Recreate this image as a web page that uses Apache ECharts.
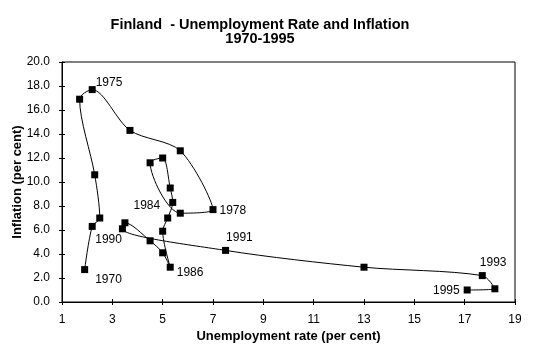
<!DOCTYPE html>
<html><head><meta charset="utf-8">
<script src="https://cdn.jsdelivr.net/npm/echarts@6/dist/echarts.min.js"></script>
<style>html,body{margin:0;padding:0;background:#fff}#c{width:535px;height:357px}</style>
</head><body><div id="c"></div>
<script>
var years = [1970,1971,1972,1973,1974,1975,1976,1977,1978,1979,1980,1981,1982,1983,1984,1985,1986,1987,1988,1989,1990,1991,1992,1993,1994,1995];
var unemployment = [1.9,2.2,2.5,2.3,1.7,2.2,3.7,5.7,7.0,5.7,4.5,5.0,5.3,5.4,5.2,5.0,5.3,5.0,4.5,3.5,3.4,7.5,13.0,17.7,18.2,17.1];
var inflation = [2.7,6.3,7.0,10.6,16.9,17.7,14.3,12.6,7.7,7.4,11.6,12.0,9.5,8.3,7.0,5.9,2.9,4.1,5.1,6.6,6.1,4.3,2.9,2.2,1.1,1.0];
var labelledYears = [1970,1975,1978,1984,1986,1990,1991,1993,1995];
var xTicks = [1,3,5,7,9,11,13,15,17,19];
var yTicks = [0,2,4,6,8,10,12,14,16,18,20];

var FONT = 'Arial, "Liberation Sans", sans-serif';
var labelStyle = {
  1970: {position: 'right', offset: [4, 10]},
  1975: {position: 'right', offset: [-3, -7]},
  1978: {position: 'right', offset: [0, 1]},
  1984: {position: 'left', offset: [-1, -12]},
  1986: {position: 'right', offset: [0, 5]},
  1990: {position: 'left', offset: [6, 11]},
  1991: {position: 'right', offset: [-6, -13]},
  1993: {position: 'right', offset: [-9, -13]},
  1995: {position: 'left', offset: [-1, 1]}
};

var data = years.map(function (yr, i) {
  var item = {value: [unemployment[i], inflation[i]], name: String(yr)};
  if (labelledYears.indexOf(yr) >= 0) {
    var s = labelStyle[yr];
    item.label = {show: true, formatter: String(yr), position: s.position, offset: s.offset,
      color: '#000', fontFamily: FONT, fontSize: 12, distance: 3};
  }
  return item;
});

function makeX(idx, inside) {
  return {
    type: 'value', min: xTicks[0], max: xTicks[xTicks.length - 1], interval: 2,
    position: 'bottom', gridIndex: 0,
    name: idx === 0 ? 'Unemployment rate (per cent)' : '',
    nameLocation: 'middle', nameGap: 28, nameMoveOverlap: false,
    nameTextStyle: {color: '#000', fontFamily: FONT, fontSize: 13, fontWeight: 'bold'},
    axisLine: {show: idx === 0, onZero: false, lineStyle: {color: '#000', width: 1}},
    axisTick: {show: true, inside: inside, length: 3, lineStyle: {color: '#000'}},
    axisLabel: {show: idx === 0, color: '#000', fontFamily: FONT, fontSize: 12, margin: 12},
    splitLine: {show: false}
  };
}
function makeY(idx, inside) {
  return {
    type: 'value', min: yTicks[0], max: yTicks[yTicks.length - 1], interval: 2,
    position: 'left', gridIndex: 0,
    name: idx === 0 ? 'Inflation (per cent)' : '',
    nameLocation: 'middle', nameGap: 38, nameRotate: 90, nameMoveOverlap: false,
    nameTextStyle: {color: '#000', fontFamily: FONT, fontSize: 13, fontWeight: 'bold'},
    axisLine: {show: idx === 0, onZero: false, lineStyle: {color: '#000', width: 1}},
    axisTick: {show: true, inside: inside, length: 3, lineStyle: {color: '#000'}},
    axisLabel: {show: idx === 0, color: '#000', fontFamily: FONT, fontSize: 12, margin: 12,
      formatter: function (v) { return v.toFixed(1); }},
    splitLine: {show: false}
  };
}

var chart = echarts.init(document.getElementById('c'), null, {renderer: 'canvas'});
chart.setOption({
  animation: false,
  backgroundColor: '#fff',
  title: {
    text: 'Finland  - Unemployment Rate and Inflation\n1970-1995',
    left: 255, top: 13, textAlign: 'center',
    textStyle: {color: '#000', fontFamily: FONT, fontSize: 14.5, fontWeight: 'bold', lineHeight: 14}
  },
  grid: {left: 62, right: 20, top: 62, bottom: 55, containLabel: false, outerBoundsMode: 'none',
    show: true, borderColor: '#000', borderWidth: 1, backgroundColor: 'transparent'},
  xAxis: [makeX(0, false), makeX(1, true)],
  yAxis: [makeY(0, false), makeY(1, true)],
  series: [{
    type: 'line', xAxisIndex: 0, yAxisIndex: 0,
    data: data, smooth: 0.3,
    symbol: 'rect', symbolSize: 7,
    itemStyle: {color: '#000'},
    lineStyle: {color: '#000', width: 1},
    label: {show: false}
  }]
});
</script></body></html>
